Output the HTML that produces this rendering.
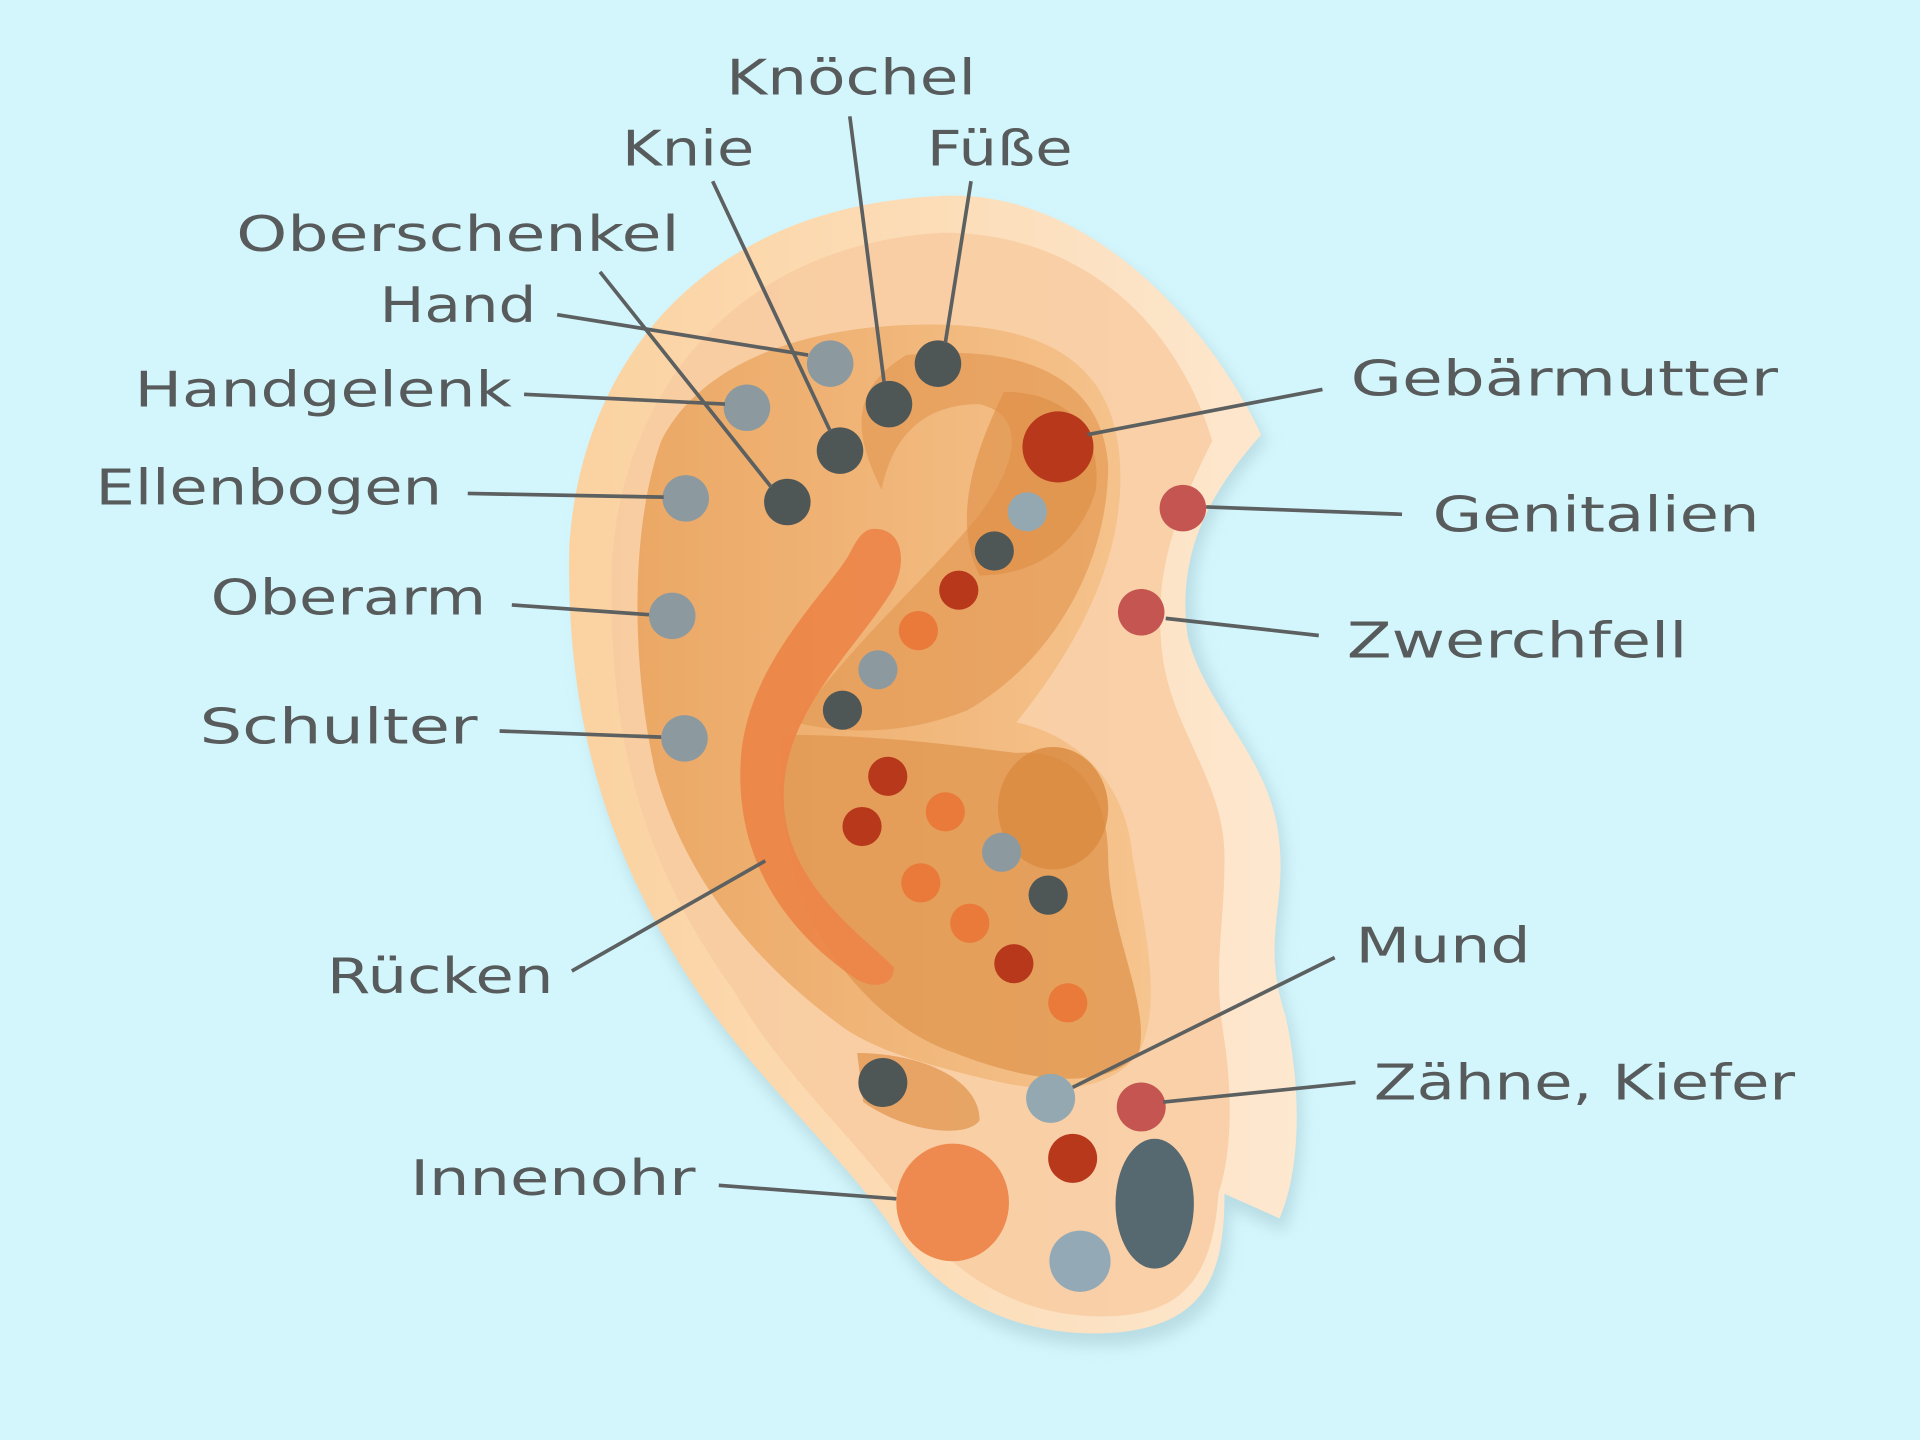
<!DOCTYPE html>
<html><head><meta charset="utf-8"><style>
html,body{margin:0;padding:0;background:#d3f5fc;}
svg{display:block}
text{font-family:"DejaVu Sans","Liberation Sans",sans-serif;fill:#575b5b;font-size:40px;}
</style></head><body>
<svg width="1920" height="1440" viewBox="0 0 1568 1176" xmlns="http://www.w3.org/2000/svg">
<defs>
<linearGradient id="face" x1="0" x2="1" y1="0" y2="0">
<stop offset="0" stop-color="#fbd2a0"/><stop offset="1" stop-color="#fde8d0"/></linearGradient>
<linearGradient id="inner" x1="0" x2="1" y1="0" y2="0">
<stop offset="0" stop-color="#eba865"/><stop offset="1" stop-color="#f6c48e"/></linearGradient>
<filter id="sh" x="-10%" y="-10%" width="120%" height="120%"><feGaussianBlur stdDeviation="6"/></filter>
</defs>
<rect width="1568" height="1176" fill="#d3f5fc"/>
<!-- shadow -->
<path d="M770,165 C880,160 980,250 1030,355 C990,400 960,450 975,520 C990,580 1040,620 1045,690 C1050,740 1030,770 1050,830 C1065,900 1060,960 1045,1000 L1000,980 C1000,1040 990,1080 920,1092 C840,1100 770,1070 730,1010 C690,950 610,880 560,800 C490,690 465,580 470,450 C480,300 580,175 770,165 Z" fill="#b9dde4" filter="url(#sh)" transform="translate(4,6)"/>
<!-- outer ear -->
<path d="M770,160 C880,155 980,250 1030,355 C990,400 960,450 970,520 C985,580 1040,620 1045,690 C1050,740 1030,770 1050,830 C1065,900 1060,960 1045,995 L1000,975 C1000,1040 985,1080 915,1088 C840,1095 770,1065 730,1005 C690,945 610,875 560,795 C490,685 462,575 465,445 C475,295 575,168 770,160 Z" fill="url(#face)"/>
<!-- helix rim -->
<path d="M770,190 C880,190 960,260 990,360 C960,420 940,470 950,540 C960,600 1000,640 1000,700 C1000,760 990,790 1000,850 C1010,920 1000,960 995,975 C990,1050 960,1075 900,1075 C830,1075 780,1040 750,1000 C700,930 640,880 600,810 C520,700 495,590 500,455 C510,320 600,200 770,190 Z" fill="#f8caa0" opacity="0.8"/>
<!-- inner region -->
<path d="M760,265 C860,265 915,300 915,390 C915,470 870,540 830,590 C880,600 920,640 925,700 C935,760 950,820 930,860 C900,900 840,890 800,880 C760,870 720,860 690,840 C620,790 560,720 535,630 C515,540 515,430 540,360 C570,300 650,265 760,265 Z" fill="url(#inner)"/>
<!-- upper fossa darker -->
<path d="M740,290 C840,280 900,310 905,380 C905,460 860,540 790,580 C740,600 690,600 650,590 C700,520 760,470 800,420 C830,380 840,340 800,330 C760,330 730,350 720,400 C700,360 690,320 740,290 Z" fill="#e49a55" opacity="0.7"/>
<path d="M820,320 C870,320 900,350 895,400 C880,450 840,470 800,470 C780,430 790,380 820,320 Z" fill="#dd8e45" opacity="0.6"/>
<!-- concha -->
<path d="M640,600 C720,600 790,610 830,615 C880,610 905,650 905,700 C905,760 940,820 930,860 C900,895 830,880 780,860 C720,840 670,780 650,720 C640,670 630,630 640,600 Z" fill="#e29a55" opacity="0.85"/>
<ellipse cx="860" cy="660" rx="45" ry="50" fill="#d98a3e" opacity="0.8"/>
<path d="M700,860 C750,860 800,880 800,915 C790,930 740,925 705,900 Z" fill="#e29a55" opacity="0.8"/>
<!-- antihelix stripe -->
<path d="M712,432 C735,430 742,455 730,480 C700,530 640,580 640,650 C640,720 700,760 730,790 C730,805 715,808 700,800 C640,760 600,700 605,620 C610,540 680,480 695,450 C700,440 705,433 712,432 Z" fill="#ec8447" opacity="0.9"/>
<!-- dots -->
<g>
<circle cx="678" cy="297" r="19" fill="#8c9aa0"/>
<circle cx="766" cy="297" r="19" fill="#4e5756"/>
<circle cx="726" cy="330" r="19" fill="#4e5756"/>
<circle cx="610" cy="333" r="19" fill="#8c9aa0"/>
<circle cx="686" cy="368" r="19" fill="#4e5756"/>
<circle cx="864" cy="365" r="29" fill="#b8381c"/>
<circle cx="560" cy="407" r="19" fill="#8c9aa0"/>
<circle cx="643" cy="410" r="19" fill="#4e5756"/>
<circle cx="966" cy="415" r="19" fill="#c45550"/>
<circle cx="839" cy="418" r="16" fill="#93a8b0"/>
<circle cx="812" cy="450" r="16" fill="#4e5756"/>
<circle cx="783" cy="482" r="16" fill="#b8381c"/>
<circle cx="750" cy="515" r="16" fill="#ea7a3a"/>
<circle cx="932" cy="500" r="19" fill="#c45550"/>
<circle cx="549" cy="503" r="19" fill="#8c9aa0"/>
<circle cx="717" cy="547" r="16" fill="#8c9aa0"/>
<circle cx="688" cy="580" r="16" fill="#4e5756"/>
<circle cx="559" cy="603" r="19" fill="#8c9aa0"/>
<circle cx="725" cy="634" r="16" fill="#b8381c"/>
<circle cx="772" cy="663" r="16" fill="#ea7a3a"/>
<circle cx="704" cy="675" r="16" fill="#b8381c"/>
<circle cx="818" cy="696" r="16" fill="#8c9aa0"/>
<circle cx="752" cy="721" r="16" fill="#ea7a3a"/>
<circle cx="856" cy="731" r="16" fill="#4e5756"/>
<circle cx="792" cy="754" r="16" fill="#ea7a3a"/>
<circle cx="828" cy="787" r="16" fill="#b8381c"/>
<circle cx="872" cy="819" r="16" fill="#ea7a3a"/>
<circle cx="721" cy="884" r="20" fill="#4e5756"/>
<circle cx="858" cy="897" r="20" fill="#93a8b0"/>
<circle cx="932" cy="904" r="20" fill="#c45550"/>
<circle cx="876" cy="946" r="20" fill="#b8381c"/>
<ellipse cx="778" cy="982" rx="46" ry="48" fill="#ee8a50"/>
<ellipse cx="943" cy="983" rx="32" ry="53" fill="#566870"/>
<circle cx="882" cy="1030" r="25" fill="#93a9b6"/>
</g>
<!-- lines -->
<g stroke="#5c6060" stroke-width="3" fill="none">
<line x1="694" y1="95" x2="722" y2="312"/>
<line x1="582" y1="148" x2="678" y2="352"/>
<line x1="793" y1="148" x2="772" y2="280"/>
<line x1="490" y1="222" x2="630" y2="398"/>
<line x1="455" y1="257" x2="660" y2="290"/>
<line x1="428" y1="322" x2="592" y2="330"/>
<line x1="1080" y1="318" x2="888" y2="355"/>
<line x1="382" y1="403" x2="542" y2="406"/>
<line x1="985" y1="414" x2="1145" y2="420"/>
<line x1="418" y1="494" x2="530" y2="502"/>
<line x1="952" y1="505" x2="1077" y2="519"/>
<line x1="408" y1="597" x2="540" y2="602"/>
<line x1="467" y1="793" x2="625" y2="703"/>
<line x1="1090" y1="782" x2="876" y2="888"/>
<line x1="950" y1="900" x2="1107" y2="884"/>
<line x1="587" y1="968" x2="732" y2="979"/>
</g>
<!-- labels -->
<text x="593" y="77" textLength="204" lengthAdjust="spacingAndGlyphs">Knöchel</text>
<text x="508" y="135" textLength="108" lengthAdjust="spacingAndGlyphs">Knie</text>
<text x="757" y="135" textLength="119" lengthAdjust="spacingAndGlyphs">Füße</text>
<text x="193" y="205" textLength="362" lengthAdjust="spacingAndGlyphs">Oberschenkel</text>
<text x="310" y="263" textLength="128" lengthAdjust="spacingAndGlyphs">Hand</text>
<text x="110" y="332" textLength="308" lengthAdjust="spacingAndGlyphs">Handgelenk</text>
<text x="1103" y="323" textLength="349" lengthAdjust="spacingAndGlyphs">Gebärmutter</text>
<text x="78" y="412" textLength="283" lengthAdjust="spacingAndGlyphs">Ellenbogen</text>
<text x="1170" y="434" textLength="267" lengthAdjust="spacingAndGlyphs">Genitalien</text>
<text x="172" y="502" textLength="225" lengthAdjust="spacingAndGlyphs">Oberarm</text>
<text x="1100" y="537" textLength="278" lengthAdjust="spacingAndGlyphs">Zwerchfell</text>
<text x="163" y="607" textLength="227" lengthAdjust="spacingAndGlyphs">Schulter</text>
<text x="267" y="811" textLength="185" lengthAdjust="spacingAndGlyphs">Rücken</text>
<text x="1107" y="786" textLength="143" lengthAdjust="spacingAndGlyphs">Mund</text>
<text x="1122" y="898" textLength="344" lengthAdjust="spacingAndGlyphs">Zähne, Kiefer</text>
<text x="335" y="976" textLength="233" lengthAdjust="spacingAndGlyphs">Innenohr</text>
</svg>
</body></html>
